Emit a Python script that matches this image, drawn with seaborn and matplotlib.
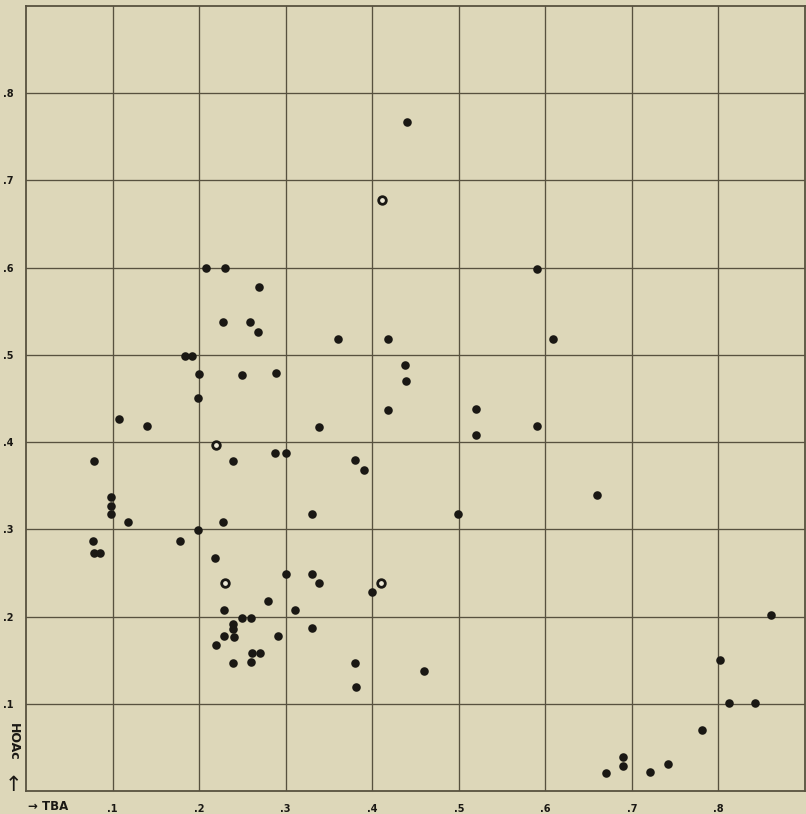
import numpy as np
import pandas as pd
import matplotlib
matplotlib.use("Agg")
import matplotlib.pyplot as plt
import seaborn as sns

# solid dots: TBA fraction (x) vs HOAc fraction (y)
tba = [0.208, 0.230, 0.269, 0.228, 0.259, 0.268, 0.184, 0.192, 0.200, 0.249,
       0.289, 0.199, 0.107, 0.140, 0.078, 0.239, 0.288, 0.300, 0.0985, 0.0985,
       0.0985, 0.118, 0.228, 0.199, 0.077, 0.178, 0.078, 0.086, 0.360, 0.418,
       0.438, 0.439, 0.418, 0.520, 0.520, 0.339, 0.380, 0.390, 0.330, 0.4996,
       0.218, 0.300, 0.330, 0.339, 0.3995, 0.280, 0.229, 0.311, 0.250, 0.2595,
       0.239, 0.239, 0.229, 0.2405, 0.291, 0.330, 0.219, 0.261, 0.2706, 0.239,
       0.2595, 0.380, 0.381, 0.4596, 0.812, 0.842, 0.781, 0.690, 0.690, 0.6705,
       0.721, 0.742, 0.861, 0.8014, 0.590, 0.609, 0.590, 0.660, 0.440]
hoac = [0.600, 0.600, 0.578, 0.5375, 0.538, 0.526, 0.499, 0.499, 0.478, 0.477,
        0.479, 0.450, 0.427, 0.419, 0.378, 0.378, 0.388, 0.388, 0.337, 0.327,
        0.318, 0.308, 0.308, 0.299, 0.287, 0.287, 0.273, 0.273, 0.518, 0.518,
        0.488, 0.470, 0.437, 0.438, 0.408, 0.417, 0.380, 0.368, 0.318, 0.318,
        0.267, 0.2485, 0.249, 0.238, 0.228, 0.218, 0.207, 0.207, 0.198, 0.198,
        0.1915, 0.186, 0.178, 0.177, 0.178, 0.187, 0.167, 0.158, 0.158, 0.147,
        0.148, 0.147, 0.119, 0.138, 0.101, 0.101, 0.0696, 0.0393, 0.029, 0.0203,
        0.0214, 0.0313, 0.2015, 0.150, 0.599, 0.518, 0.4186, 0.339, 0.767]

# ring-like dots (light centre)
tba_open = [0.219, 0.2298, 0.410, 0.411]
hoac_open = [0.397, 0.239, 0.239, 0.678]

x_ticks = [0.1, 0.2, 0.3, 0.4, 0.5, 0.6, 0.7, 0.8]
x_tick_labels = [".1", ".2", ".3", ".4", ".5", ".6", ".7", ".8"]
y_ticks = [0.1, 0.2, 0.3, 0.4, 0.5, 0.6, 0.7, 0.8]
y_tick_labels = [".1", ".2", ".3", ".4", ".5", ".6", ".7", ".8"]

paper = "#ddd7b9"
ink = "#1a1814"
line_col = "#57513f"

sns.set_style("white", {"axes.facecolor": paper, "figure.facecolor": paper})
plt.rcParams['font.family'] = ['DejaVu Sans']

df = pd.DataFrame({"TBA": tba, "HOAc": hoac})
df_open = pd.DataFrame({"TBA": tba_open, "HOAc": hoac_open})

fig = plt.figure(figsize=(8.06, 8.14), dpi=100)
ax = fig.add_axes([26 / 806, 23 / 814, 779 / 806, 785 / 814])

sns.scatterplot(data=df, x="TBA", y="HOAc", ax=ax, color=ink, s=38,
                linewidth=0, zorder=3)
sns.scatterplot(data=df_open, x="TBA", y="HOAc", ax=ax, color="#ece8d6",
                edgecolor=ink, linewidth=2.0, s=30, zorder=3)

ax.set_xlim(0, 0.9)
ax.set_ylim(0, 0.9)
ax.set_xticks(x_ticks)
ax.set_xticklabels(x_tick_labels, fontsize=7, fontweight='bold', color=ink)
ax.set_yticks(y_ticks)
ax.set_yticklabels(y_tick_labels, fontsize=7, fontweight='bold', color=ink)
ax.tick_params(axis='both', length=0)
ax.tick_params(axis='x', pad=9)
ax.tick_params(axis='y', pad=9)
ax.grid(True, color=line_col, linewidth=0.95, zorder=1)
ax.set_axisbelow(True)
for side in ax.spines.values():
    side.set_visible(True)
    side.set_color(line_col)
    side.set_linewidth(1.3)
ax.set_xlabel("")
ax.set_ylabel("")

fig.text(28 / 806, 1 - 807 / 814, "\u2192 TBA", fontsize=8.5, fontweight='bold',
         color=ink, ha='left', va='center')
fig.text(13 / 806, 1 - 742 / 814, "HOAc", fontsize=9, fontweight='bold',
         color=ink, rotation=-90, ha='center', va='center')
fig.text(13 / 806, 1 - 785 / 814, "\u2191", fontsize=15,
         color=ink, ha='center', va='center')

fig.savefig("out.png", dpi=100, facecolor=paper)
